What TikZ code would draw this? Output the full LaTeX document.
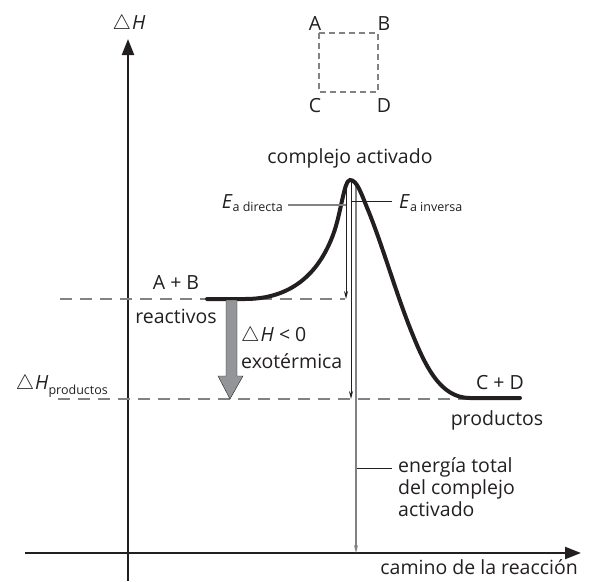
\documentclass[tikz,border=0pt]{standalone}
\usepackage{fontspec}
\setmainfont{Open Sans}
\usetikzlibrary{arrows.meta}
\definecolor{ink}{HTML}{231F20}
\definecolor{midgray}{HTML}{808285}
\definecolor{fillgray}{HTML}{939598}
\newcommand{\subsz}{\fontsize{12.5}{15}\selectfont}
\newcommand{\dH}{$\triangle$\kern1pt\textit{H}}
\begin{document}
\begin{tikzpicture}[x=1pt,y=-1pt,
  lbl/.style={inner sep=0pt, font=\fontsize{19.5}{24}\selectfont, text=ink},
  axisline/.style={line width=2.2pt, draw=ink, -{Triangle[length=16pt,width=12pt]}},
  curveline/.style={line width=4pt, draw=ink, line cap=round},
  thin/.style={line width=1pt, draw=ink},
  thingray/.style={line width=1.4pt, draw=midgray},
  level/.style={line width=1.3pt, draw=midgray, dash pattern=on 12pt off 8pt},
  tipdown/.style={-{Stealth[length=8pt,width=4pt]}}
]
\useasboundingbox (0,0) rectangle (596,581);

% axes
\coordinate (ybot) at (128,581);
\coordinate (ytop) at (128,39);
\coordinate (xleft) at (25,553);
\coordinate (xright) at (581,553);
\draw[axisline] (ybot) -- (ytop);
\draw[axisline] (xleft) -- (xright);

% levels
\coordinate (rl0) at (60,299);
\coordinate (rl1) at (345,299);
\coordinate (pl0) at (58,399);
\coordinate (pl1) at (520,399);
\draw[level] (rl0) -- (rl1);
\draw[level] (pl0) -- (pl1);

% square
\coordinate (sq1) at (319,33);
\coordinate (sq2) at (378,92);
\draw[line width=1.2pt, draw=midgray, dash pattern=on 6pt off 4pt] (sq1) rectangle (sq2);
\node[lbl] (nA) at (315,24) {A};
\node[lbl] (nB) at (384,24) {B};
\node[lbl] (nC) at (315,106) {C};
\node[lbl] (nD) at (384,106) {D};

% vertical thin lines from the peak
\coordinate (v1t) at (346,184);
\coordinate (v1b) at (346,299);
\coordinate (v2t) at (351,182);
\coordinate (v2b) at (351,399);
\coordinate (v3t) at (356,184);
\coordinate (v3b) at (356,553);
\draw[thin, tipdown] (v1t) -- (v1b);
\draw[thin, tipdown] (v2t) -- (v2b);
\draw[thingray, tipdown] (v3t) -- (v3b);

% energy curve
\draw[curveline] (207,299) -- (245,299)
  .. controls (290,299) and (318,275) .. (333,235)
  .. controls (341,214) and (344,180) .. (350,180)
  .. controls (357,180) and (361,193) .. (368,210)
  .. controls (382,244) and (395,290) .. (410,328)
  .. controls (425,366) and (440,398) .. (470,398)
  -- (520,398);

% gray block arrow
\fill[fillgray, draw=ink, line width=0.4pt]
  (226,300) -- (237,300) -- (237,376) -- (243,376) -- (230,399) -- (218,376) -- (226,376) -- cycle;

% labels
\node[lbl] (dHax) at (129,24) {\dH};
\node[lbl] (compl) at (350,158) {complejo activado};
\node[lbl, anchor=east] (Ead) at (283,203) {\textit{E}\raisebox{-0.35ex}{\subsz a directa}};
\node[lbl, anchor=west] (Eai) at (399,203) {\textit{E}\raisebox{-0.35ex}{\subsz a inversa}};
\coordinate (Eadl) at (288,205);
\coordinate (Eadr) at (346,205);
\draw[thingray, line width=1.2pt] (Eadl) -- (Eadr);
\coordinate (Eail) at (351,201);
\coordinate (Eair) at (392,201);
\draw[thin] (Eail) -- (Eair);

\node[lbl] (AB) at (176,283) {A + B};
\node[lbl] (reac) at (176,316) {reactivos};
\node[lbl, anchor=west] (dHneg) at (241,336) {\dH{} < 0};
\node[lbl, anchor=west] (exo) at (241,361) {exotérmica};
\node[lbl, anchor=east] (dHp) at (108,386) {\dH\raisebox{-0.45ex}{\subsz productos}};
\node[lbl] (CD) at (500,383) {C + D};
\node[lbl] (prod) at (497,420) {productos};
\node[lbl, anchor=north west, align=left, font=\fontsize{19.5}{22}\selectfont] (etot) at (398,457) {energía total\\del complejo\\activado};
\coordinate (etl) at (357,468);
\coordinate (etr) at (392,468);
\draw[thin, line width=0.8pt] (etl) -- (etr);
\node[lbl, anchor=east] (cam) at (578,567) {camino de la reacción};
\end{tikzpicture}
\end{document}
